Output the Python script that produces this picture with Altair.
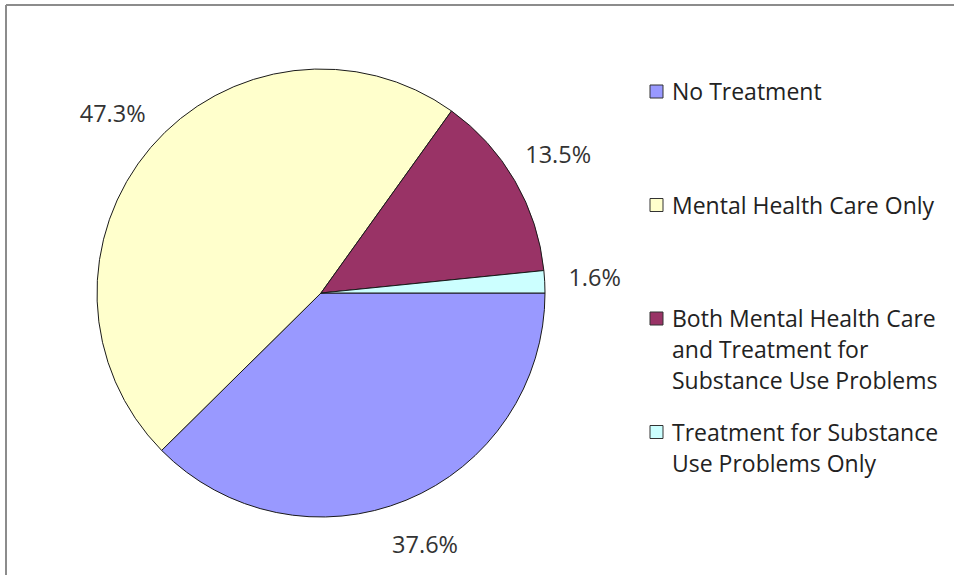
import math
import altair as alt
import pandas as pd

categories = [
    "No Treatment",
    "Mental Health Care Only",
    "Both Mental Health Care and Treatment for Substance Use Problems",
    "Treatment for Substance Use Problems Only",
]
values = [37.6, 47.3, 13.5, 1.6]
pct_labels = ["37.6%", "47.3%", "13.5%", "1.6%"]
colors = ["#9999FF", "#FFFFCC", "#993366", "#CCFFFF"]
legend_text = [
    "No Treatment",
    "Mental Health Care Only",
    "Both Mental Health Care\nand Treatment for\nSubstance Use Problems",
    "Treatment for Substance\nUse Problems Only",
]

df = pd.DataFrame({"category": categories, "value": values,
                   "label": pct_labels, "order": list(range(4))})
leg = pd.DataFrame({"category": categories, "text": legend_text, "i": list(range(4))})

CX, CY, R = 321, 293, 224
FONT = "Open Sans"

color_scale = alt.Scale(domain=categories, range=colors)
theta = alt.Theta("value:Q", stack=True,
                  scale=alt.Scale(domain=[0, 100], range=[math.pi / 2, math.pi / 2 + 2 * math.pi]))

base = alt.Chart(df)
arcs = base.mark_arc(outerRadius=R, stroke="#1a1a1a", strokeWidth=1).encode(
    theta=theta,
    order=alt.Order("order:Q"),
    color=alt.Color("category:N", scale=color_scale, legend=None),
    x=alt.value(CX), y=alt.value(CY),
)
labels = base.mark_text(radius=274, fontSize=23.5, font=FONT, color="#333333").encode(
    theta=theta,
    order=alt.Order("order:Q"),
    text="label:N",
    x=alt.value(CX), y=alt.value(CY),
)

ly = alt.Y("i:Q", scale=alt.Scale(domain=[0, 3], range=[91.5, 432]), axis=None)
lbase = alt.Chart(leg)
squares = lbase.mark_square(size=169, stroke="#333333", strokeWidth=1, opacity=1).encode(
    x=alt.value(656.5), y=ly,
    fill=alt.Fill("category:N", scale=color_scale, legend=None),
)
ltext = lbase.mark_text(align="left", baseline="alphabetic", lineBreak="\n", lineHeight=31,
                        fontSize=23, font=FONT, color="#222222", dy=8.5).encode(
    x=alt.value(672), y=ly, text="text:N",
)

frame_top = alt.Chart(df).mark_rule(color="#8c8c8c", strokeWidth=2).encode(
    x=alt.value(6), x2=alt.value(954), y=alt.value(5))
frame_left = alt.Chart(df).mark_rule(color="#8c8c8c", strokeWidth=2).encode(
    x=alt.value(6), y=alt.value(5), y2=alt.value(575))

chart = alt.layer(frame_top, frame_left, arcs, labels, squares, ltext).properties(
    width=954, height=575, padding=0,
    autosize=alt.AutoSizeParams(type="none"), background="white",
).configure_view(stroke=None)

chart.save("out.html", embed_options={"renderer": "svg", "actions": False})
